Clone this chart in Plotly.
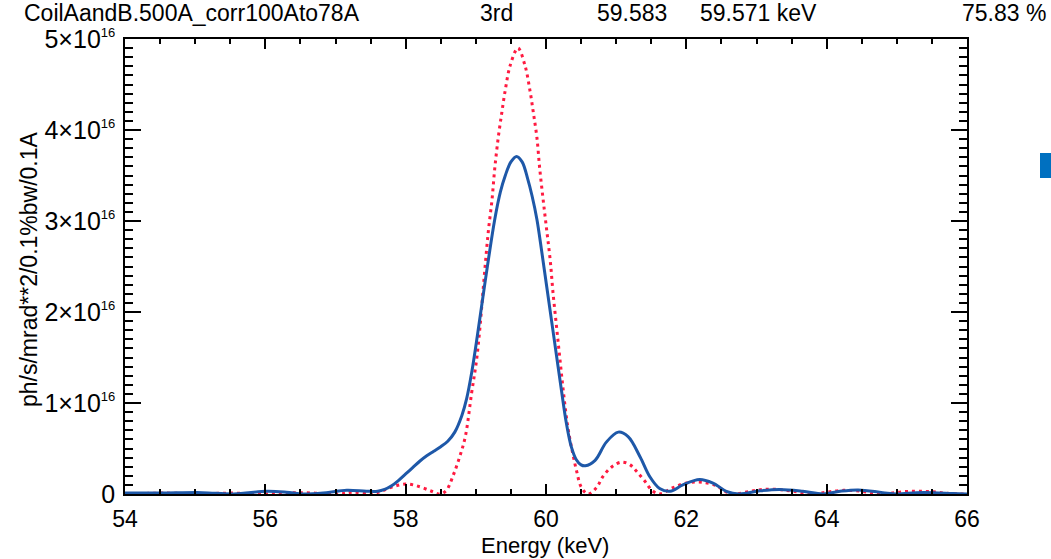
import plotly.graph_objects as go

# ---- data (y values in units of 1e16 ph/s/mrad^2/0.1%bw/0.1A) ----
blue_energy = [54.0, 54.5, 55.1, 55.55, 56.02, 56.3, 56.54, 56.87, 57.16, 57.44, 57.60, 57.70,
               57.80, 57.90, 58.00, 58.10, 58.20, 58.30, 58.40, 58.50, 58.60, 58.70, 58.80, 58.87,
               58.94, 59.02, 59.10, 59.18, 59.27, 59.35, 59.42, 59.50, 59.58, 59.66, 59.74, 59.80,
               59.87, 59.94, 60.01, 60.08, 60.15, 60.22, 60.29, 60.36, 60.43, 60.50, 60.56, 60.70,
               60.86, 61.03, 61.17, 61.34, 61.48, 61.62, 61.77, 61.95, 62.19, 62.38, 62.57, 62.75,
               63.05, 63.33, 63.66, 63.95, 64.19, 64.45, 64.8, 65.0, 65.28, 65.52, 65.8, 66.0]
blue_flux = [0.01, 0.01, 0.015, 0.0, 0.03, 0.02, 0.0, 0.015, 0.04, 0.03, 0.03, 0.05,
             0.09, 0.15, 0.22, 0.29, 0.36, 0.42, 0.47, 0.52, 0.58, 0.68, 0.86, 1.05,
             1.33, 1.73, 2.16, 2.58, 3.02, 3.32, 3.50, 3.65, 3.71, 3.65, 3.46, 3.28,
             3.02, 2.66, 2.28, 1.90, 1.52, 1.14, 0.78, 0.52, 0.38, 0.32, 0.31, 0.37,
             0.57, 0.68, 0.63, 0.41, 0.19, 0.06, 0.03, 0.10, 0.16, 0.12, 0.03, 0.0,
             0.035, 0.05, 0.03, 0.0, 0.03, 0.045, 0.015, 0.0, 0.015, 0.015, 0.005, 0.0]

red_energy = [54.0, 54.6, 55.0, 55.5, 56.0, 56.5, 57.06, 57.25, 57.5, 57.65, 57.82, 58.01,
              58.2, 58.37, 58.49, 58.58, 58.68, 58.77, 58.85, 58.94, 59.01, 59.06, 59.10, 59.14,
              59.18, 59.23, 59.27, 59.32, 59.37, 59.42, 59.49, 59.60, 59.70, 59.77, 59.82, 59.87,
              59.91, 59.96, 60.01, 60.06, 60.10, 60.15, 60.20, 60.25, 60.31, 60.38, 60.44, 60.50,
              60.60, 60.72, 60.81, 60.94, 61.08, 61.20, 61.29, 61.41, 61.51, 61.62, 61.81, 62.00,
              62.22, 62.43, 62.55, 62.67, 62.91, 63.09, 63.30, 63.52, 63.76, 64.00, 64.24, 64.50,
              64.76, 65.09, 65.30, 65.50, 65.75, 66.0]
red_flux = [0.0, 0.01, 0.0, 0.01, 0.0, 0.015, 0.0, 0.02, 0.0, 0.03, 0.08, 0.11,
            0.08, 0.03, 0.0, 0.04, 0.21, 0.41, 0.63, 1.11, 1.47, 1.84, 2.21, 2.57,
            2.90, 3.23, 3.58, 3.92, 4.19, 4.44, 4.71, 4.90, 4.71, 4.44, 4.19, 3.92,
            3.58, 3.23, 2.90, 2.57, 2.21, 1.84, 1.47, 1.11, 0.74, 0.45, 0.24, 0.08,
            0.0, 0.07, 0.19, 0.30, 0.35, 0.32, 0.25, 0.14, 0.04, 0.0, 0.07, 0.12,
            0.13, 0.09, 0.03, 0.0, 0.03, 0.05, 0.05, 0.03, 0.0, 0.02, 0.04, 0.03,
            0.0, 0.025, 0.03, 0.025, 0.005, 0.0]

x_ticks = [54, 56, 58, 60, 62, 64, 66]
y_ticks = [0, 1, 2, 3, 4, 5]
SUP = "<sup><span style='font-size:13px'>16</span></sup>"
y_tick_text = ["0"] + [f"{n}×10{SUP}" for n in [1, 2, 3, 4, 5]]
header_parts = ["CoilAandB.500A_corr100Ato78A", "3rd", "59.583", "59.571 keV", "75.83 %"]
header_px = [22, 478, 595, 698, 960]

# ---- layout geometry (pixels) ----
W, H = 1051, 559
L, R, T, B = 125, 84, 39, 65
PW, PH = W - L - R, H - T - B


def px_x(p):
    return (p - L) / PW


def px_y(p):
    return (H - B - p) / PH


FONT = "Liberation Sans, Arial, sans-serif"

fig = go.Figure()
fig.add_trace(go.Scatter(x=red_energy, y=red_flux, mode="lines", line_shape="spline",
                         line=dict(color="#ff1a40", width=3, dash="3px,4px"),
                         showlegend=False))
fig.add_trace(go.Scatter(x=blue_energy, y=blue_flux, mode="lines", line_shape="spline",
                         line=dict(color="#1e58a8", width=3), showlegend=False))

axis_common = dict(showline=True, linecolor="black", linewidth=1.5, mirror="allticks",
                   ticks="inside", tickcolor="black", showgrid=False, zeroline=False)

fig.update_xaxes(range=[54, 66], tickmode="array", tickvals=x_ticks, ticklen=10, tickwidth=1.5,
                 minor=dict(tickmode="linear", tick0=54, dtick=0.5, ticklen=5,
                            tickcolor="black", ticks="inside", tickwidth=1.5),
                 ticklabelstandoff=4,
                 tickfont=dict(family=FONT, size=23, color="black"), **axis_common)
fig.update_yaxes(range=[0, 5], tickmode="array", tickvals=y_ticks, ticktext=y_tick_text,
                 ticklen=16, tickwidth=1.5,
                 minor=dict(tickmode="linear", tick0=0, dtick=0.1, ticklen=8,
                            tickcolor="black", ticks="inside", tickwidth=1.5),
                 ticklabelstandoff=3,
                 tickfont=dict(family=FONT, size=25, color="black"), **axis_common)

annotations = []
for text, p in zip(header_parts, header_px):
    annotations.append(dict(text=text, x=px_x(p), y=px_y(13), xref="paper", yref="paper",
                            xanchor="left", yanchor="middle", showarrow=False,
                            font=dict(family=FONT, size=23, color="black")))
annotations.append(dict(text="Energy (keV)", x=px_x(545), y=px_y(545), xref="paper", yref="paper",
                        xanchor="center", yanchor="middle", showarrow=False,
                        font=dict(family=FONT, size=22, color="black")))
annotations.append(dict(text="ph/s/mrad**2/0.1%bw/0.1A", x=px_x(29), y=px_y(269), xref="paper",
                        yref="paper", xanchor="center", yanchor="middle", textangle=-90,
                        showarrow=False,
                        font=dict(family=FONT, size=23, color="black")))

fig.update_layout(
    width=W, height=H,
    margin=dict(l=L, r=R, t=T, b=B, pad=0),
    paper_bgcolor="white", plot_bgcolor="white",
    annotations=annotations,
    shapes=[dict(type="rect", xref="paper", yref="paper", x0=px_x(1040), x1=px_x(1060),
                 y0=px_y(178), y1=px_y(153), fillcolor="#0070c0", line=dict(width=0),
                 layer="above")],
)

fig.write_html("out.html")
